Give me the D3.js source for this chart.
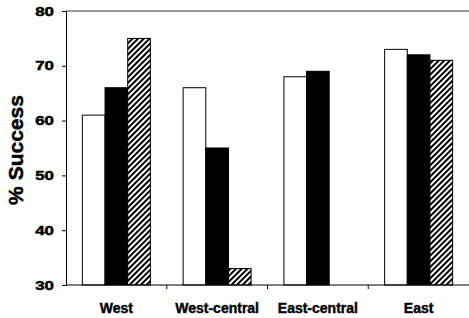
<!DOCTYPE html>
<html><head><meta charset="utf-8">
<script src="https://cdn.jsdelivr.net/npm/d3@7"></script>
<style>body{margin:0;background:#fff}svg{display:block}</style>
</head><body>
<svg id="c" width="469" height="318"></svg>
<script>
const categories = ["West", "West-central", "East-central", "East"];
const seriesNames = ["s1", "s2", "s3"];
const s1 = [61, 66, 68, 73];
const s2 = [66, 55, 69, 72];
const s3 = [75, 33, null, 71];
const yTicks = [30, 40, 50, 60, 70, 80];

const svg = d3.select("#c");
const m = {l: 66, r: 0, t: 11, b: 33};
const W = 469, H = 318;
const FONT = "Liberation Sans, Arial, sans-serif";
const x = d3.scaleBand().domain(categories).range([m.l, W - m.r]).paddingInner(0).paddingOuter(0);
const y = d3.scaleLinear().domain([30, 80]).range([H - m.b, m.t]);
const inner = d3.scaleBand().domain(seriesNames).range([0, 68]);

const defs = svg.append("defs");
const pat = defs.append("pattern").attr("id", "hatch").attr("patternUnits", "userSpaceOnUse")
  .attr("width", 4).attr("height", 4).attr("patternTransform", "rotate(45)");
pat.append("rect").attr("width", 4).attr("height", 4).attr("fill", "#fff");
pat.append("rect").attr("width", 2).attr("height", 4).attr("fill", "#000");

const fills = {s1: "#fff", s2: "#000", s3: "url(#hatch)"};
const data = categories.flatMap((c, i) => [
  {c, k: "s1", v: s1[i]}, {c, k: "s2", v: s2[i]}, {c, k: "s3", v: s3[i]}
]).filter(d => d.v != null);

const off = (x.bandwidth() - 68) / 2;
svg.append("g").selectAll("rect").data(data).join("rect")
  .attr("x", d => x(d.c) + off + inner(d.k))
  .attr("y", d => y(d.v))
  .attr("width", inner.bandwidth())
  .attr("height", d => y(30) - y(d.v))
  .attr("fill", d => fills[d.k])
  .attr("stroke", "#000").attr("stroke-width", 1);

// frame top line
svg.append("line").attr("x1", m.l).attr("x2", W).attr("y1", y(80)).attr("y2", y(80))
  .attr("stroke", "#333").attr("stroke-width", 1);

const yAxis = svg.append("g").attr("transform", `translate(${m.l},0)`)
  .call(d3.axisLeft(y).tickValues(yTicks).tickSize(4).tickPadding(8));
yAxis.selectAll("text").attr("font-family", FONT)
  .attr("font-weight", "bold").attr("font-size", 13).attr("fill", "#000")
  .attr("stroke", "#000").attr("stroke-width", 0.5)
  .attr("transform", function() { const t = d3.select(this); return `translate(${+t.attr("x")},0) scale(1.3,1) translate(${-t.attr("x")},0)`; });
yAxis.select(".domain").attr("stroke", "#000");

const xAxis = svg.append("g").attr("transform", `translate(0,${y(30)})`)
  .call(d3.axisBottom(x).tickSize(0).tickPadding(18));
xAxis.select(".domain").attr("d", `M${m.l},0H${W}`).attr("stroke", "#000");
xAxis.selectAll("text").attr("font-family", FONT)
  .attr("font-weight", "bold").attr("font-size", 14).attr("fill", "#000")
  .attr("stroke", "#000").attr("stroke-width", 0.4);
// separators between categories
svg.append("g").selectAll("line").data(categories.slice(1)).join("line")
  .attr("x1", d => x(d)).attr("x2", d => x(d))
  .attr("y1", y(30)).attr("y2", y(30) + 4).attr("stroke", "#000");

svg.append("text").attr("transform", `translate(23,${(y(80) + y(30)) / 2 + 2}) rotate(-90)`)
  .attr("text-anchor", "middle")
  .attr("font-family", FONT).attr("font-weight", "bold")
  .attr("stroke", "#000").attr("stroke-width", 0.5)
  .attr("font-size", 21).text("% Success");
</script>
</body></html>
